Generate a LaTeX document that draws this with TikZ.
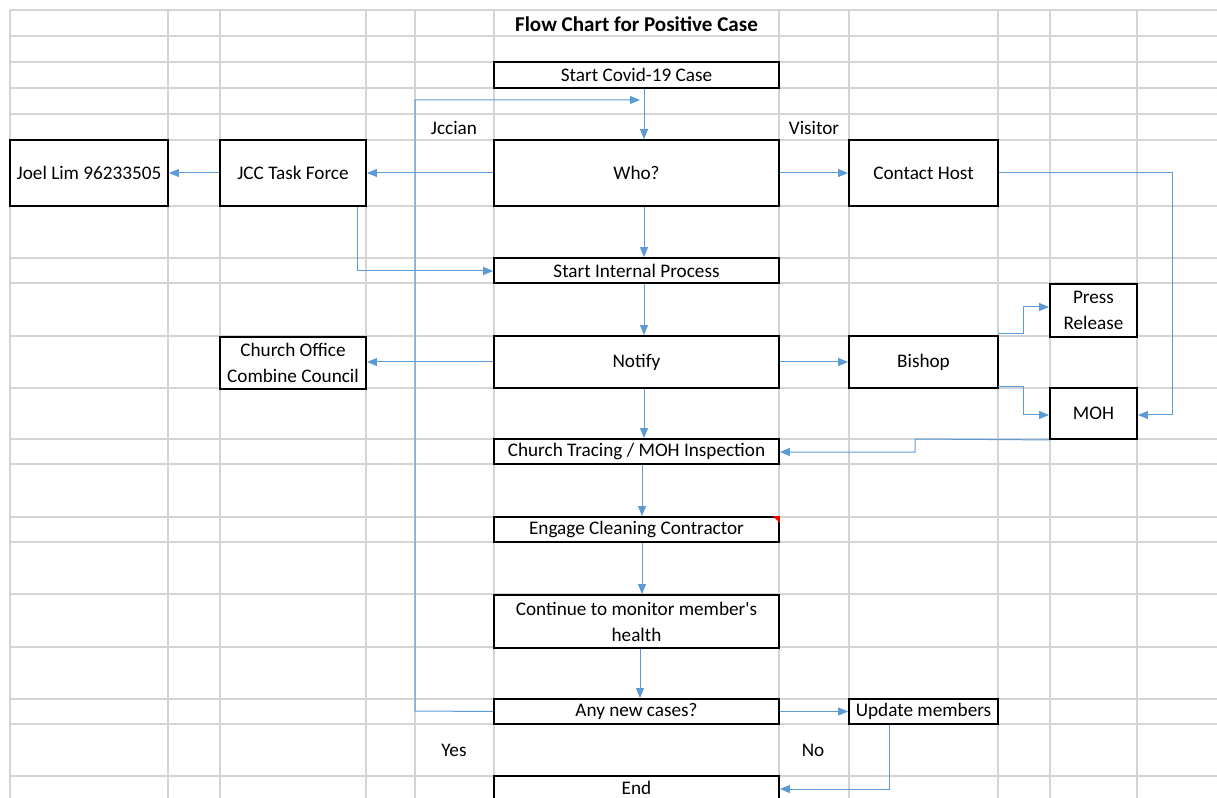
\documentclass[tikz,border=0pt]{standalone}
\usepackage{fontspec}
\setmainfont{Carlito}
\usepackage{tikz}
\usetikzlibrary{arrows.meta}
\definecolor{gridgray}{HTML}{D4D4D4}
\definecolor{linkblue}{HTML}{5B9BD5}

\begin{document}
\begin{tikzpicture}[x=0.75pt,y=-0.75pt,
        cell/.style={draw=black,line width=1.4pt,rectangle,inner sep=0pt,align=center,
                     font=\fontsize{14.4}{19.5}\selectfont},
        size/.style 2 args={minimum width=#1*0.75pt,minimum height=#2*0.75pt},
        tag/.style={inner sep=0pt,font=\fontsize{14.4}{19.5}\selectfont},
        link/.style={draw=linkblue,line width=0.75pt,-{Triangle[length=7.5pt,width=6pt]}}]
        \useasboundingbox (0,0) rectangle (1217,798);
        \clip (0,0) rectangle (1217,798);
        % sheet grid
        \foreach \gx in {10,168,220,366,415,494,779,849,998,1050,1137}
            \draw[gridgray,line width=0.9pt] (\gx,10) -- (\gx,798);
        \foreach \gy in {10,36,62,88,114,140,206,258,283,336,388,439,464,517,542,594,647,699,724,776}
            \draw[gridgray,line width=0.9pt] (10,\gy) -- (1217,\gy);

        \node[tag,font=\fontsize{15.8}{19.5}\selectfont\bfseries] (title) at (636.5,24) {Flow Chart for Positive Case};

        \node[cell,fill=white,size={285}{26}] (start) at (636.5,75) {Start Covid-19 Case};
        \node[cell,fill=white,size={285}{66}] (who) at (636.5,173) {Who?};
        \node[cell,fill=white,size={146}{66}] (jcc) at (293,173) {JCC Task Force};
        \node[cell,fill=white,size={158}{66}] (joel) at (89,173) {Joel Lim 96233505};
        \node[cell,fill=white,size={149}{66}] (host) at (923.5,173) {Contact Host};
        \node[cell,fill=white,size={285}{25}] (internal) at (636.5,270.5) {Start Internal Process};
        \node[cell,fill=white,size={146}{52}] (office) at (293,363) {Church Office\\Combine Council};
        \node[cell,fill=white,size={285}{52}] (notify) at (636.5,362) {Notify};
        \node[cell,fill=white,size={149}{52}] (bishop) at (923.5,362) {Bishop};
        \node[cell,fill=white,size={87}{53}] (press) at (1093.5,310.5) {Press\\Release};
        \node[cell,fill=white,size={87}{51}] (moh) at (1093.5,413.5) {MOH};
        \node[cell,fill=white,size={285}{25}] (tracing) at (636.5,451.5) {Church Tracing / MOH Inspection};
        \node[cell,fill=white,size={285}{25}] (clean) at (636.5,529.5) {Engage Cleaning Contractor};
        \node[cell,fill=white,size={285}{53}] (monitor) at (636.5,621.5) {Continue to monitor member\textquotesingle s\\health};
        \node[cell,fill=white,size={285}{25}] (anynew) at (636.5,711.5) {Any new cases?};
        \node[cell,fill=white,size={149}{25}] (update) at (923.5,711.5) {Update members};
        \node[cell,fill=white,size={285}{24}] (end) at (636.5,788) {End};

        % comment mark
        \fill[red] (clean.north east) ++(-7,0) -- ++(7,0) -- ++(0,7) -- cycle;

        \node[tag] (jccian) at (454,128) {Jccian};
        \node[tag] (visitor) at (814,128) {Visitor};
        \node[tag] (yes) at (454,750) {Yes};
        \node[tag] (no) at (813,750) {No};

        % connectors
        \coordinate (loopa) at (415,711);
        \coordinate (loopb) at (415,100);
        \draw[link] (start.south -| 644,0) -- (who.north -| 644,0);
        \draw[link] (anynew.west) -- (loopa) -- (loopb) -- (640,100);
        \draw[link] (who.west) -- (jcc.east);
        \draw[link] (jcc.west) -- (joel.east);
        \draw[link] (who.east) -- (host.west);
        \draw[link] (host.east) -- (1172,173) -- (1172,415) -- (moh.east |- 0,415);
        \draw[link] (jcc.south -| 357,0) -- (357,271) -- (internal.west |- 0,271);
        \draw[link] (who.south -| 644,0) -- (internal.north -| 644,0);
        \draw[link] (internal.south -| 644,0) -- (notify.north -| 644,0);
        \draw[link] (notify.west) -- (office.east |- notify.west);
        \draw[link] (notify.east) -- (bishop.west);
        \draw[link] (998,334) -- (1023,334) -- (1023,307) -- (press.west |- 0,307);
        \draw[link] (998,387) -- (1023,387) -- (1023,415) -- (moh.west |- 0,415);
        \draw[link] (moh.south west) -- (915,439) -- (915,452) -- (tracing.east |- 0,452);
        \draw[link] (notify.south -| 644,0) -- (tracing.north -| 644,0);
        \draw[link] (tracing.south -| 642,0) -- (clean.north -| 642,0);
        \draw[link] (clean.south -| 642,0) -- (monitor.north -| 642,0);
        \draw[link] (monitor.south -| 640,0) -- (anynew.north -| 640,0);
        \draw[link] (anynew.east) -- (update.west);
        \draw[link] (update.south -| 889,0) -- (889,789) -- (end.east |- 0,789);
\end{tikzpicture}
\end{document}
